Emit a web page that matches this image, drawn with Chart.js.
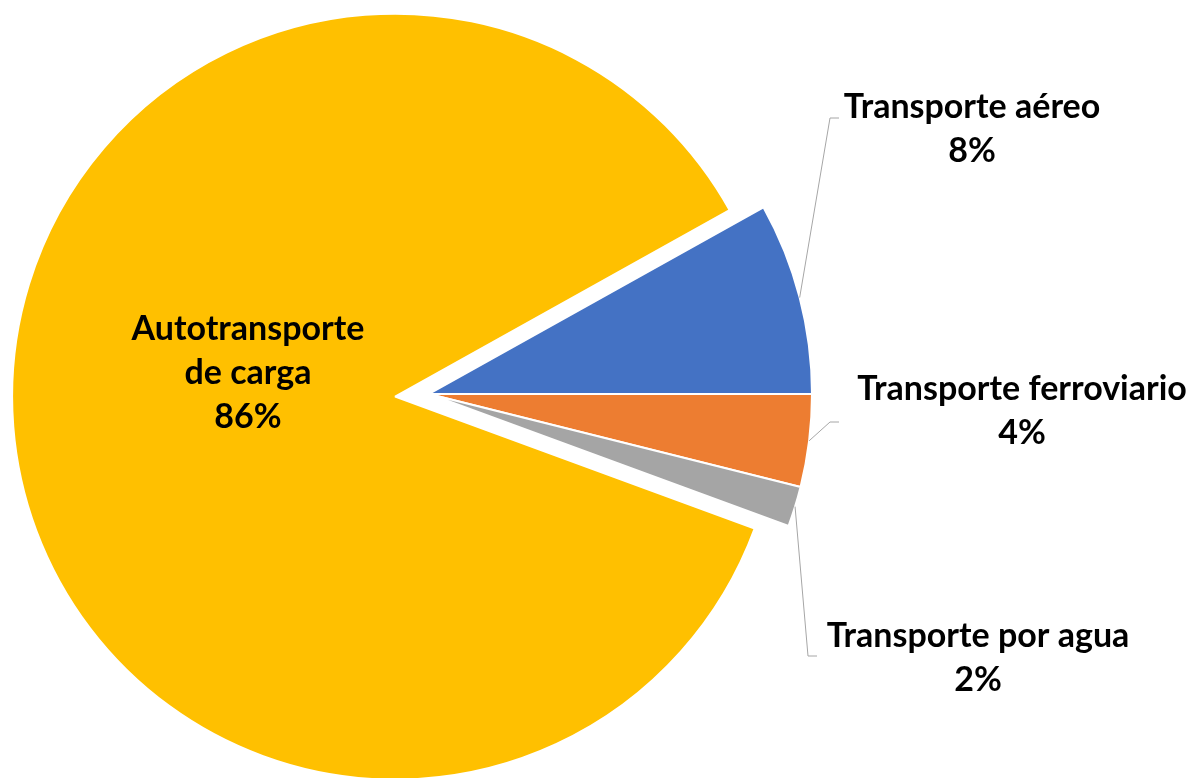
<!DOCTYPE html>
<html>
<head>
<meta charset="utf-8">
<script src="https://cdn.jsdelivr.net/npm/chart.js@4"></script>
<style>
  html, body { margin: 0; padding: 0; background: #fff; }
  #wrap { width: 1191px; height: 778px; }
</style>
</head>
<body>
<div id="wrap"><canvas id="chart"></canvas></div>
<script>
// data (shares in %)
const categories = ['Transporte aéreo', 'Transporte ferroviario', 'Transporte por agua', 'Autotransporte de carga'];
const shares = [8.1, 3.9, 1.7, 86.3];
const colors = ['#4472C4', '#ED7D31', '#A5A5A5', '#FFC000'];

// how the labels are broken into lines
const labelLines = [
  ['Transporte aéreo'],
  ['Transporte ferroviario'],
  ['Transporte por agua'],
  ['Autotransporte', 'de carga']
];

// layout bits
const explode = [0, 0, 0, 34];
const labelPos = [
  { x: 972, y: 118 },
  { x: 1022, y: 400 },
  { x: 978, y: 647 },
  { x: 248, y: 340 }
];
const leaders = [
  { ex: 830, ey: 118, hx: 839 },
  { ex: 830, ey: 422, hx: 839 },
  { ex: 808, ey: 656, hx: 817 },
  null
];

const total = shares.reduce((a, b) => a + b, 0);
// first slice ends at 3 o'clock
const rotation = 90 - 360 * shares[0] / total;

const explodePlugin = {
  id: 'explode',
  afterDatasetsUpdate(chart) {
    const meta = chart.getDatasetMeta(0);
    meta.data.forEach((arc, i) => {
      const d = explode[i];
      if (!d) return;
      const mid = (arc.startAngle + arc.endAngle) / 2;
      arc.x += Math.cos(mid) * d;
      arc.y += Math.sin(mid) * d;
    });
  }
};

const labelPlugin = {
  id: 'pieLabels',
  afterDraw(chart) {
    const ctx = chart.ctx;
    const meta = chart.getDatasetMeta(0);
    ctx.save();
    meta.data.forEach((arc, i) => {
      const l = leaders[i];
      if (l) {
        const mid = (arc.startAngle + arc.endAngle) / 2;
        const sx = arc.x + Math.cos(mid) * arc.outerRadius;
        const sy = arc.y + Math.sin(mid) * arc.outerRadius;
        ctx.strokeStyle = '#A6A6A6';
        ctx.lineWidth = 1;
        ctx.beginPath();
        ctx.moveTo(sx, sy);
        ctx.lineTo(l.ex, l.ey);
        ctx.lineTo(l.hx, l.ey);
        ctx.stroke();
      }
      const lines = labelLines[i].concat([Math.round(shares[i] / total * 100) + '%']);
      ctx.fillStyle = '#000';
      ctx.font = 'bold 34px Lato';
      ctx.textAlign = 'center';
      ctx.textBaseline = 'alphabetic';
      lines.forEach((t, k) => {
        ctx.fillText(t, labelPos[i].x, labelPos[i].y + k * 44);
      });
    });
    ctx.restore();
  }
};

new Chart(document.getElementById('chart'), {
  type: 'pie',
  data: {
    labels: categories,
    datasets: [{
      data: shares,
      backgroundColor: colors,
      borderColor: '#fff',
      borderWidth: 2
    }]
  },
  options: {
    responsive: true,
    maintainAspectRatio: false,
    animation: false,
    rotation: rotation,
    radius: 383,
    layout: { padding: { left: 0, right: 333, top: 10, bottom: 0 } },
    plugins: {
      legend: { display: false },
      tooltip: { enabled: false }
    }
  },
  plugins: [explodePlugin, labelPlugin]
});
</script>
</body>
</html>
